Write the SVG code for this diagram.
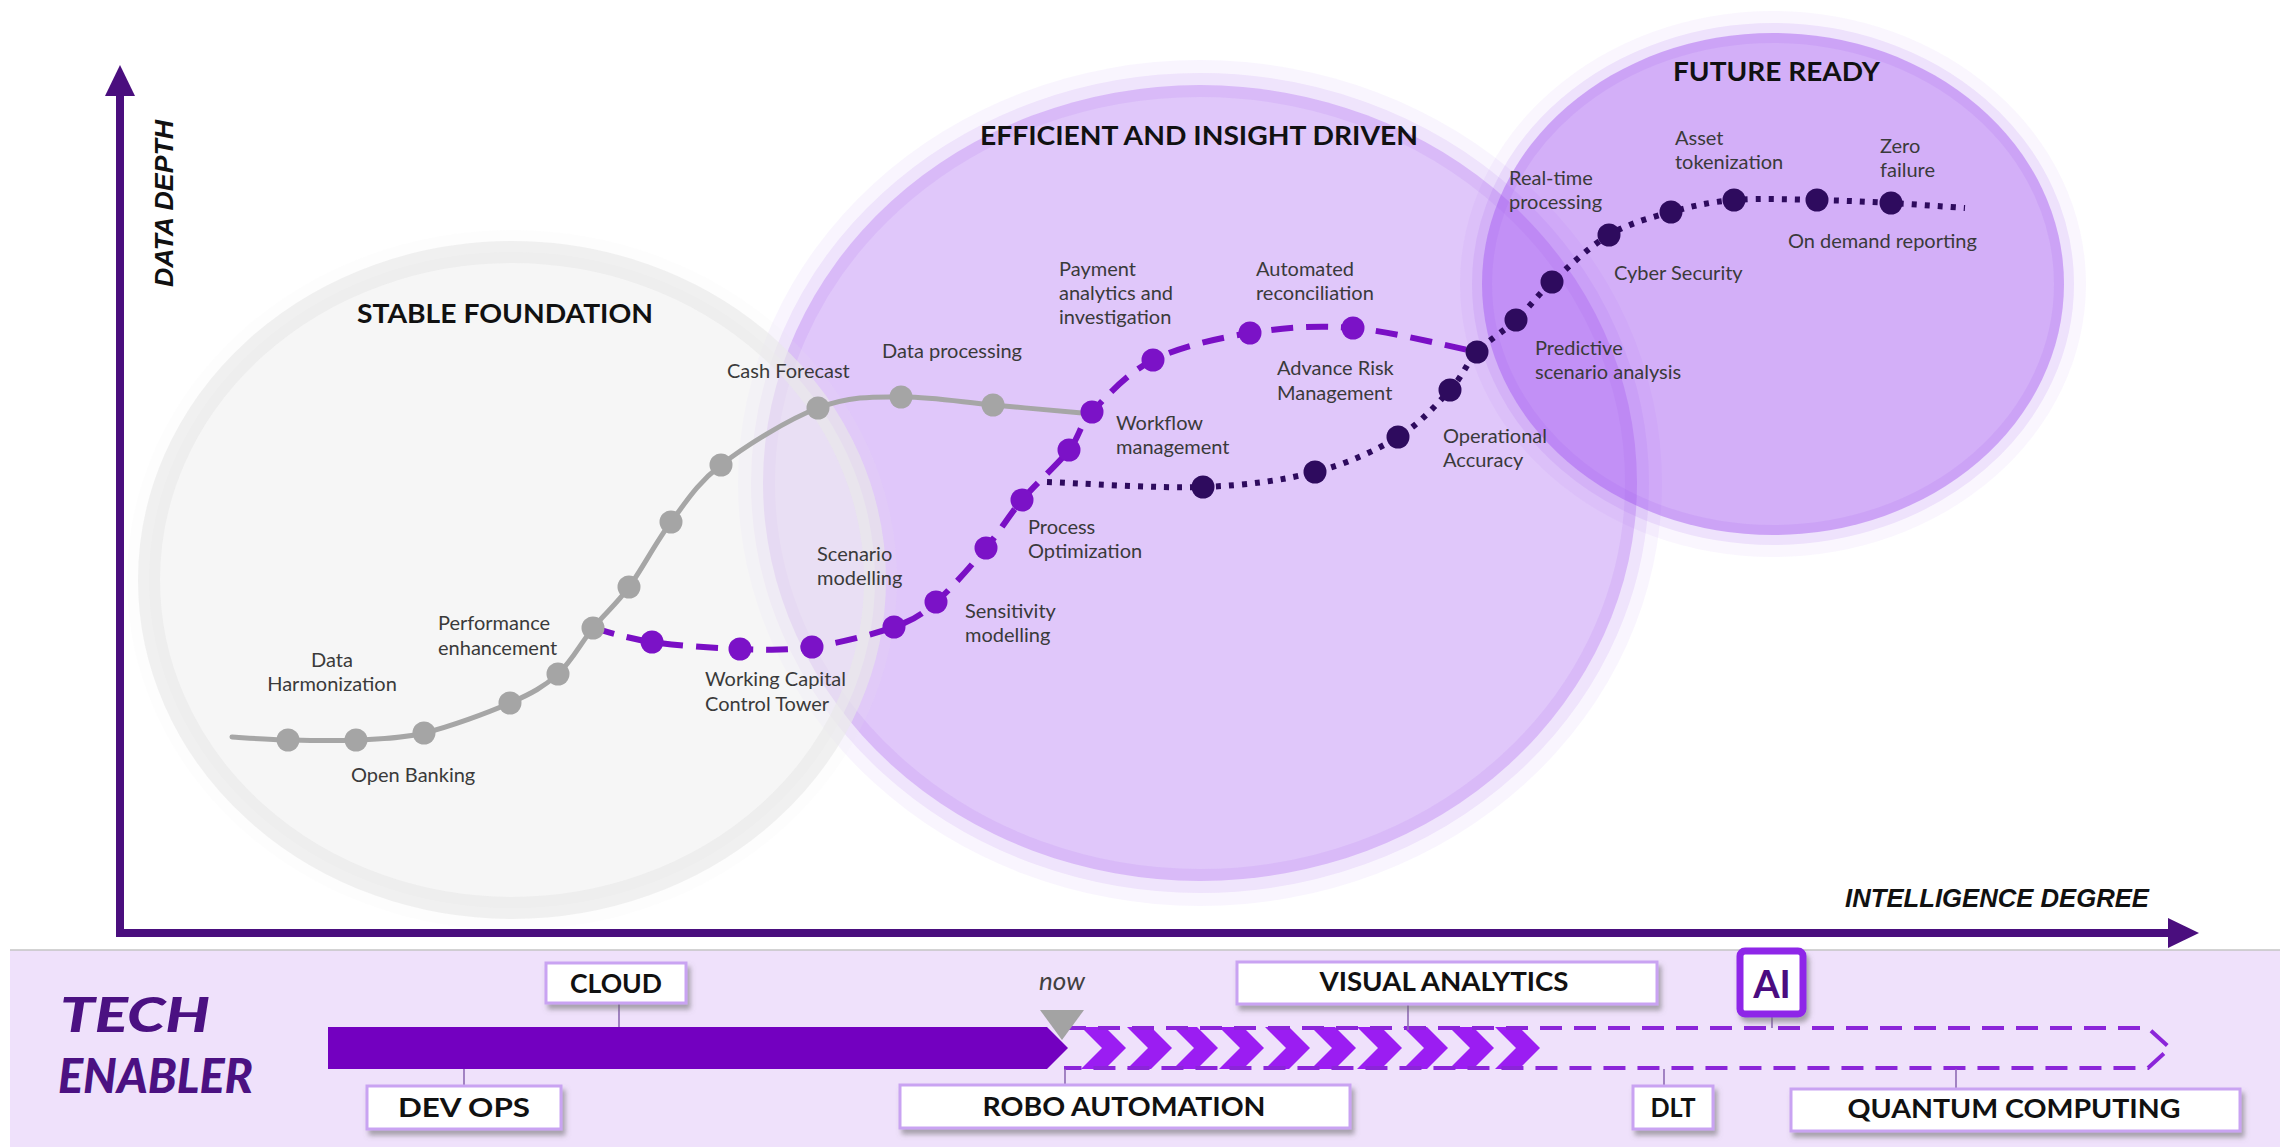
<svg xmlns="http://www.w3.org/2000/svg" width="2284" height="1147" viewBox="0 0 2284 1147">
<defs>
<style>
.lbl{font-family:Lato,"Liberation Sans",sans-serif;font-size:20px;fill:#3a3a3a}
.head{font-family:Lato,"Liberation Sans",sans-serif;font-size:27px;font-weight:700;fill:#111}
.axis{font-family:"Liberation Sans",Arial,sans-serif;font-size:26px;font-weight:700;font-style:italic;fill:#111}
.tech{font-family:Lato,"Liberation Sans",sans-serif;font-size:48px;font-weight:900;font-style:italic;fill:#4b1182}
.boxt{font-family:Lato,"Liberation Sans",sans-serif;font-size:26px;font-weight:700;fill:#111;text-anchor:middle}
.box{fill:#fff;stroke:#c9a3f2;stroke-width:3;filter:url(#sh)}
.gdot{fill:#a5a5a5}
.pdot{fill:#7b12c7}
.ddot{fill:#2e0b5e}
.tick{stroke:#8e6bb5;stroke-width:1.6}
.chev{fill:#9b1df2}
</style>
<filter id="sh" x="-10%" y="-20%" width="130%" height="160%">
<feDropShadow dx="3" dy="5" stdDeviation="2.5" flood-color="#6d6d6d" flood-opacity="0.55"/>
</filter>
</defs>
<rect width="2284" height="1147" fill="#fff"/>

<g id="stage-circles">
<g id="efficient-circle">
<ellipse cx="1200" cy="483" rx="462" ry="423" fill="rgb(160,80,240)" fill-opacity="0.06"/>
<ellipse cx="1200" cy="483" rx="437" ry="398" fill="rgb(160,80,240)" fill-opacity="0.28" stroke="rgb(160,80,240)" stroke-opacity="0.1" stroke-width="24"/>
</g>
<g id="future-circle">
<ellipse cx="1773" cy="284" rx="313" ry="273" fill="rgb(160,80,240)" fill-opacity="0.05"/>
<ellipse cx="1773" cy="284" rx="291" ry="251" fill="rgb(160,80,240)" fill-opacity="0.43" stroke="rgb(160,80,240)" stroke-opacity="0.12" stroke-width="20"/>
</g>
<g id="stable-circle">
<ellipse cx="512" cy="580" rx="385" ry="350" fill="rgb(232,232,232)" fill-opacity="0.1"/>
<ellipse cx="512" cy="580" rx="363" ry="328" fill="rgb(240,240,240)" fill-opacity="0.55" stroke="rgb(232,232,232)" stroke-opacity="0.62" stroke-width="22"/>
</g>
</g>

<g id="axes" fill="#4a0e7e">
<rect x="116" y="92" width="8" height="845"/>
<polygon points="120,65 135,96 105,96"/>
<rect x="116" y="929" width="2056" height="8"/>
<polygon points="2199,933 2168,918 2168,948"/>
<text class="axis" transform="translate(173,287) rotate(-90)" textLength="167" lengthAdjust="spacingAndGlyphs">DATA DEPTH</text>
<text class="axis" x="1845" y="907" textLength="304" lengthAdjust="spacingAndGlyphs">INTELLIGENCE DEGREE</text>
</g>

<g id="headings">
<text id="h-stable" class="head" x="357" y="323" textLength="296" lengthAdjust="spacingAndGlyphs">STABLE FOUNDATION</text>
<text id="h-efficient" class="head" x="980" y="145" textLength="438" lengthAdjust="spacingAndGlyphs">EFFICIENT AND INSIGHT DRIVEN</text>
<text id="h-future" class="head" x="1673" y="81" textLength="207" lengthAdjust="spacingAndGlyphs">FUTURE READY</text>
</g>

<g id="connectors" fill="none">
<path id="curve-foundation" stroke="#a6a6a6" stroke-width="5" stroke-linecap="round" d="M232,737 C241.3,737.5 267.3,739.5 288,740 C308.7,740.5 333.3,741.2 356,740 C378.7,738.8 398.3,739.2 424,733 C449.7,726.8 487.7,712.8 510,703 C532.3,693.2 544.2,686.5 558,674 C571.8,661.5 581.2,642.5 593,628 C604.8,613.5 616,604.7 629,587 C642,569.3 655.7,542.3 671,522 C686.3,501.7 696.5,484 721,465 C745.5,446 788,419.3 818,408 C848,396.7 871.8,396.5 901,397 C930.2,396.5 962.8,402.3 993,405 C1023.2,407.7 1067.2,411.7 1082,413"/>
<path id="curve-efficient" stroke="#7a0fc5" stroke-width="6" stroke-dasharray="22 13" d="M593,628 C602.8,630.3 627.5,638.5 652,642 C676.5,645.5 713.3,648.2 740,649 C766.7,649.8 786.3,650.7 812,647 C837.7,643.3 873.3,634.5 894,627 C914.7,619.5 920.7,615.2 936,602 C951.3,588.8 971.7,565 986,548 C1000.3,531 1008.2,516.3 1022,500 C1035.8,483.7 1057.3,464.7 1069,450 C1080.7,435.3 1078,427 1092,412 C1106,397 1126.7,373.2 1153,360 C1179.3,346.8 1216.7,338.3 1250,333 C1283.3,327.7 1315.2,324.8 1353,328 C1390.8,331.2 1456.3,348 1477,352"/>
<path id="curve-future" stroke="#2e0b5e" stroke-width="6" stroke-dasharray="5 8" d="M1047,482 C1073,482.8 1158.3,488.7 1203,487 C1247.7,485.3 1282.5,480.3 1315,472 C1347.5,463.7 1375.5,450.7 1398,437 C1420.5,423.3 1436.8,404.2 1450,390 C1463.2,375.8 1466,363.7 1477,352 C1488,340.3 1503.5,331.7 1516,320 C1528.5,308.3 1536.5,296.2 1552,282 C1567.5,267.8 1589.2,246.7 1609,235 C1628.8,223.3 1650.2,217.8 1671,212 C1691.8,206.2 1709.7,202 1734,200 C1758.3,198 1790.8,199.5 1817,200 C1843.2,200.5 1866.3,201.7 1891,203 C1915.7,204.3 1952.7,207.2 1965,208"/>
</g>

<g id="dots-foundation" class="gdot">
<circle cx="288" cy="740" r="11.5"/><circle cx="356" cy="740" r="11.5"/><circle cx="424" cy="733" r="11.5"/><circle cx="510" cy="703" r="11.5"/><circle cx="558" cy="674" r="11.5"/><circle cx="593" cy="628" r="11.5"/><circle cx="629" cy="587" r="11.5"/><circle cx="671" cy="522" r="11.5"/><circle cx="721" cy="465" r="11.5"/><circle cx="818" cy="408" r="11.5"/><circle cx="901" cy="397" r="11.5"/><circle cx="993" cy="405" r="11.5"/>
</g>
<g id="dots-efficient" class="pdot">
<circle cx="652" cy="642" r="11.5"/><circle cx="740" cy="649" r="11.5"/><circle cx="812" cy="647" r="11.5"/><circle cx="894" cy="627" r="11.5"/><circle cx="936" cy="602" r="11.5"/><circle cx="986" cy="548" r="11.5"/><circle cx="1022" cy="500" r="11.5"/><circle cx="1069" cy="450" r="11.5"/><circle cx="1092" cy="412" r="11.5"/><circle cx="1153" cy="360" r="11.5"/><circle cx="1250" cy="333" r="11.5"/><circle cx="1353" cy="328" r="11.5"/>
</g>
<g id="dots-future" class="ddot">
<circle cx="1203" cy="487" r="11.5"/><circle cx="1315" cy="472" r="11.5"/><circle cx="1398" cy="437" r="11.5"/><circle cx="1450" cy="390" r="11.5"/><circle cx="1477" cy="352" r="11.5"/><circle cx="1516" cy="320" r="11.5"/><circle cx="1552" cy="282" r="11.5"/><circle cx="1609" cy="235" r="11.5"/><circle cx="1671" cy="212" r="11.5"/><circle cx="1734" cy="200" r="11.5"/><circle cx="1817" cy="200" r="11.5"/><circle cx="1891" cy="203" r="11.5"/>
</g>

<g id="labels">
<g id="n-data-harmonization"><text class="lbl" x="332" y="667" text-anchor="middle">Data</text><text class="lbl" x="332" y="691" text-anchor="middle">Harmonization</text></g>
<g id="n-open-banking"><text class="lbl" x="351" y="782">Open Banking</text></g>
<g id="n-performance"><text class="lbl" x="438" y="630">Performance</text><text class="lbl" x="438" y="655">enhancement</text></g>
<g id="n-working-capital"><text class="lbl" x="705" y="686">Working Capital</text><text class="lbl" x="705" y="711">Control Tower</text></g>
<g id="n-scenario"><text class="lbl" x="817" y="561">Scenario</text><text class="lbl" x="817" y="585">modelling</text></g>
<g id="n-sensitivity"><text class="lbl" x="965" y="618">Sensitivity</text><text class="lbl" x="965" y="642">modelling</text></g>
<g id="n-process"><text class="lbl" x="1028" y="534">Process</text><text class="lbl" x="1028" y="558">Optimization</text></g>
<g id="n-cash-forecast"><text class="lbl" x="727" y="378">Cash Forecast</text></g>
<g id="n-data-processing"><text class="lbl" x="882" y="358">Data processing</text></g>
<g id="n-workflow"><text class="lbl" x="1116" y="430">Workflow</text><text class="lbl" x="1116" y="454">management</text></g>
<g id="n-payment"><text class="lbl" x="1059" y="276">Payment</text><text class="lbl" x="1059" y="300">analytics and</text><text class="lbl" x="1059" y="324">investigation</text></g>
<g id="n-automated"><text class="lbl" x="1256" y="276">Automated</text><text class="lbl" x="1256" y="300">reconciliation</text></g>
<g id="n-advance-risk"><text class="lbl" x="1277" y="375">Advance Risk</text><text class="lbl" x="1277" y="400">Management</text></g>
<g id="n-operational"><text class="lbl" x="1443" y="443">Operational</text><text class="lbl" x="1443" y="467">Accuracy</text></g>
<g id="n-real-time"><text class="lbl" x="1509" y="185">Real-time</text><text class="lbl" x="1509" y="209">processing</text></g>
<g id="n-predictive"><text class="lbl" x="1535" y="355">Predictive</text><text class="lbl" x="1535" y="379">scenario analysis</text></g>
<g id="n-cyber"><text class="lbl" x="1614" y="280">Cyber Security</text></g>
<g id="n-asset"><text class="lbl" x="1675" y="145">Asset</text><text class="lbl" x="1675" y="169">tokenization</text></g>
<g id="n-zero"><text class="lbl" x="1880" y="153">Zero</text><text class="lbl" x="1880" y="177">failure</text></g>
<g id="n-on-demand"><text class="lbl" x="1788" y="248">On demand reporting</text></g>
</g>

<g id="tech-band">
<rect x="10" y="950" width="2270" height="197" fill="#efe1fb"/>
<line x1="10" y1="950" x2="2280" y2="950" stroke="#c4c4c4" stroke-width="1.5"/>
<text class="tech" x="60" y="1032" textLength="150" lengthAdjust="spacingAndGlyphs">TECH</text>
<text class="tech" x="58" y="1093" textLength="195" lengthAdjust="spacingAndGlyphs">ENABLER</text>
</g>

<g id="timeline">
<path id="bar" d="M328,1027 H1047 L1068,1048 L1047,1069 H328 Z" fill="#7300c0"/>
<g id="chevrons" class="chev">
<path d="M1081,1027h24l21,21l-21,21h-24l21,-21z"/>
<path d="M1127,1027h24l21,21l-21,21h-24l21,-21z"/>
<path d="M1173,1027h24l21,21l-21,21h-24l21,-21z"/>
<path d="M1219,1027h24l21,21l-21,21h-24l21,-21z"/>
<path d="M1265,1027h24l21,21l-21,21h-24l21,-21z"/>
<path d="M1311,1027h24l21,21l-21,21h-24l21,-21z"/>
<path d="M1357,1027h24l21,21l-21,21h-24l21,-21z"/>
<path d="M1403,1027h24l21,21l-21,21h-24l21,-21z"/>
<path d="M1449,1027h24l21,21l-21,21h-24l21,-21z"/>
<path d="M1495,1027h24l21,21l-21,21h-24l21,-21z"/>
</g>
<path id="future-outline" d="M1064,1028 H2148 L2170,1048 L2148,1068 H1064" fill="none" stroke="#8b25d9" stroke-width="4" stroke-dasharray="22 12"/>
<g id="now-marker">
<polygon points="1040,1010 1084,1010 1062,1040" fill="#a3a3a3"/>
<text x="1062" y="990" text-anchor="middle" font-family="Lato,'Liberation Sans',sans-serif" font-size="26" font-style="italic" fill="#404040">now</text>
</g>
</g>

<g id="tech-connectors">
<line class="tick" x1="619" y1="1003" x2="619" y2="1027"/>
<line class="tick" x1="464" y1="1069" x2="464" y2="1086"/>
<line class="tick" x1="1065" y1="1069" x2="1065" y2="1085"/>
<line class="tick" x1="1408" y1="1004" x2="1408" y2="1030"/>
<line class="tick" x1="1772" y1="1017" x2="1772" y2="1028"/>
<line class="tick" x1="1664" y1="1069" x2="1664" y2="1086"/>
<line class="tick" x1="1956" y1="1069" x2="1956" y2="1089"/>
</g>

<g id="n-cloud"><rect class="box" x="546" y="963" width="140" height="40"/><text class="boxt" x="616" y="993" textLength="92" lengthAdjust="spacingAndGlyphs">CLOUD</text></g>
<g id="n-devops"><rect class="box" x="367" y="1086" width="194" height="43"/><text class="boxt" x="464" y="1117" textLength="132" lengthAdjust="spacingAndGlyphs">DEV OPS</text></g>
<g id="n-robo"><rect class="box" x="900" y="1085" width="450" height="43"/><text class="boxt" x="1124" y="1116" textLength="283" lengthAdjust="spacingAndGlyphs">ROBO AUTOMATION</text></g>
<g id="n-visual"><rect class="box" x="1237" y="962" width="420" height="42"/><text class="boxt" x="1444" y="991" textLength="249" lengthAdjust="spacingAndGlyphs">VISUAL ANALYTICS</text></g>
<g id="n-ai"><rect x="1740" y="951" width="63" height="63" rx="5" fill="#fff" stroke="#8e26e8" stroke-width="7" filter="url(#sh)"/><text x="1772" y="998" text-anchor="middle" font-family="Lato,'Liberation Sans',sans-serif" font-size="38" font-weight="700" fill="#4b0c80">AI</text></g>
<g id="n-dlt"><rect class="box" x="1633" y="1086" width="80" height="43"/><text class="boxt" x="1673" y="1117" textLength="45" lengthAdjust="spacingAndGlyphs">DLT</text></g>
<g id="n-quantum"><rect class="box" x="1791" y="1089" width="449" height="42"/><text class="boxt" x="2014" y="1118" textLength="333" lengthAdjust="spacingAndGlyphs">QUANTUM COMPUTING</text></g>
</svg>
